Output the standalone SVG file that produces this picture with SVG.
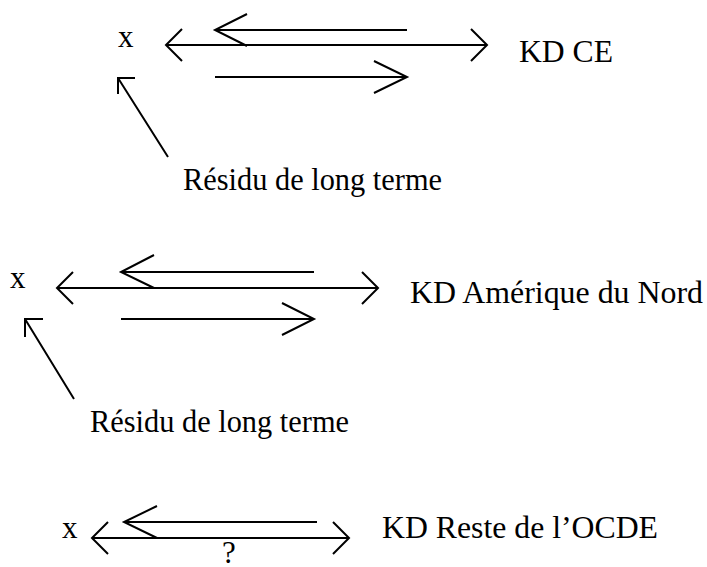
<svg xmlns="http://www.w3.org/2000/svg" width="707" height="567" viewBox="0 0 707 567">
<style>
text{font-family:"Liberation Serif","Times New Roman",serif;font-size:31px;fill:#000}
.ln{stroke:#000;stroke-width:2;fill:none;stroke-linecap:butt;stroke-linejoin:miter}
</style>
<rect width="707" height="567" fill="#fff"/>
<g id="x1"><text x="118" y="47">x</text></g>
<g id="kdce"><text x="519" y="62" textLength="94" lengthAdjust="spacingAndGlyphs">KD CE</text></g>
<g id="res1"><text x="183" y="190" textLength="259" lengthAdjust="spacingAndGlyphs">Résidu de long terme</text></g>
<g id="x2"><text x="10" y="288">x</text></g>
<g id="kdan"><text x="410" y="303" textLength="293" lengthAdjust="spacingAndGlyphs">KD Amérique du Nord</text></g>
<g id="res2"><text x="90" y="432" textLength="259" lengthAdjust="spacingAndGlyphs">Résidu de long terme</text></g>
<g id="x3"><text x="62" y="538">x</text></g>
<g id="kdro"><text x="382" y="538" textLength="276" lengthAdjust="spacingAndGlyphs">KD Reste de l’OCDE</text></g>
<g id="q"><text x="229" y="563" text-anchor="middle" font-size="29">?</text></g>
<g id="connectors" class="ln">
<path d="M166 45H487M182 29L166 45L182 61M471 29L487 45L471 61"/>
<path d="M407 30H215M247 14L215 30L247 46"/>
<path d="M215 77H407M374 61L407 77L374 93"/>
<path d="M168 157L118 78M135 78H118V94"/>
<path d="M57 288H378M73 272L57 288L73 304M362 272L378 288L362 304"/>
<path d="M314 272H121M154 255L121 272L154 288"/>
<path d="M121 319H314M282 303L314 319L282 335"/>
<path d="M74 399L25 319M43 319H25V337"/>
<path d="M92 538H349M108 522L92 538L108 554M333 522L349 538L333 554"/>
<path d="M317 522H124M157 506L124 522L157 538"/>
</g>
</svg>
